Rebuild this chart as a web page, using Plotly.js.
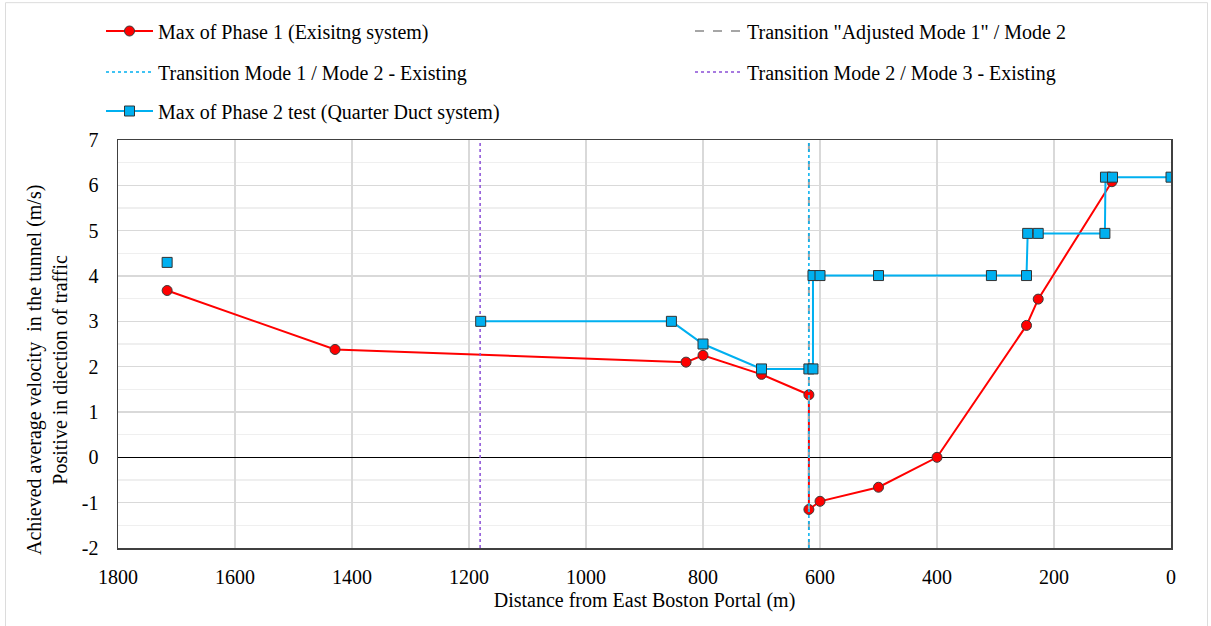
<!DOCTYPE html>
<html>
<head>
<meta charset="utf-8">
<script src="https://cdn.plot.ly/plotly-3.0.1.min.js"></script>
<style>
  html, body { margin: 0; padding: 0; background: #ffffff; }
  #chart { position: absolute; left: 0; top: 0; width: 1211px; height: 626px; }
</style>
</head>
<body>
<div id="chart"></div>
<script>
// Max of Phase 1 (existing system)
const phase1X = [1716, 1429, 829, 800, 700, 619, 619, 600, 500, 400, 247, 227, 101];
const phase1Y = [3.68, 2.38, 2.10, 2.25, 1.83, 1.38, -1.15, -0.97, -0.66, 0.00, 2.91, 3.49, 6.08];

// Max of Phase 2 test (Quarter Duct system) - null separates the isolated first point
const phase2X = [1716, null, 1180, 854, 800, 700, 619, 612, 612, 600, 500, 307, 247, 245, 227, 113, 112, 100, 0];
const phase2Y = [4.30, null, 3.00, 3.00, 2.50, 1.95, 1.95, 1.95, 4.01, 4.01, 4.01, 4.01, 4.01, 4.94, 4.94, 4.94, 6.18, 6.18, 6.18];

// Transition positions (m)
const adjustedMode1Mode2X = 619;
const mode1Mode2ExistingX = 619;
const mode2Mode3ExistingX = 1181;
const yRange = [-2, 7];

const xTicks = [1800, 1600, 1400, 1200, 1000, 800, 600, 400, 200, 0];
const yTicks = [-2, -1, 0, 1, 2, 3, 4, 5, 6, 7];
const yTickText = ['-2', '-1', '0', '1', '2', '3', '4', '5', '6', '7'];

const fontFam = 'Times New Roman';

const traces = [
  {
    name: 'Max of Phase 1 (Exisitng system)',
    x: phase1X, y: phase1Y, mode: 'lines+markers', type: 'scatter',
    line: {color: '#ff0000', width: 2},
    marker: {symbol: 'circle', size: 10, color: '#ff0000', line: {color: '#3a3a3a', width: 1}},
    legend: 'legend'
  },
  {
    name: 'Transition "Adjusted Mode 1" / Mode 2',
    x: [adjustedMode1Mode2X, adjustedMode1Mode2X], y: yRange, mode: 'lines', type: 'scatter',
    line: {color: '#a6a6a6', width: 2, dash: 'dash'},
    legend: 'legend2'
  },
  {
    name: 'Transition Mode 1 / Mode 2 - Existing',
    x: [mode1Mode2ExistingX, mode1Mode2ExistingX], y: yRange, mode: 'lines', type: 'scatter',
    line: {color: '#00b0f0', width: 1.5, dash: 'dot'},
    legend: 'legend3'
  },
  {
    name: 'Transition Mode 2 / Mode 3 - Existing',
    x: [mode2Mode3ExistingX, mode2Mode3ExistingX], y: yRange, mode: 'lines', type: 'scatter',
    line: {color: '#8a4fd6', width: 1.5, dash: 'dot'},
    legend: 'legend4'
  },
  {
    name: 'Max of Phase 2 test (Quarter Duct system)',
    x: phase2X, y: phase2Y, mode: 'lines+markers', type: 'scatter',
    connectgaps: false,
    line: {color: '#00b0f0', width: 2},
    marker: {symbol: 'square', size: 10, color: '#00b0f0', line: {color: '#333333', width: 1}},
    legend: 'legend5'
  }
];

function leg(xpx, ypx) {
  return {
    xref: 'container', yref: 'container',
    x: xpx / 1211, y: 1 - ypx / 626,
    xanchor: 'left', yanchor: 'middle',
    orientation: 'v',
    bgcolor: 'rgba(0,0,0,0)',
    borderwidth: 0,
    itemwidth: 47,
    font: {family: fontFam, size: 20, color: '#000000'}
  };
}

const layout = {
  width: 1211, height: 626,
  paper_bgcolor: '#ffffff',
  plot_bgcolor: '#ffffff',
  margin: {l: 118, r: 40, t: 140, b: 78, autoexpand: false},
  font: {family: fontFam, size: 20, color: '#000000'},
  showlegend: true,
  legend: leg(101, 31),
  legend2: leg(690, 31),
  legend3: leg(101, 72),
  legend4: leg(690, 72),
  legend5: leg(101, 111),
  xaxis: {
    range: [1800, 0],
    tickvals: xTicks,
    ticktext: xTicks.map(String),
    showgrid: true, gridcolor: '#d9d9d9', gridwidth: 1.5,
    zeroline: false,
    showline: true, linecolor: '#404040', linewidth: 1.5, mirror: true,
    ticklabelstandoff: 10,
    tickfont: {family: fontFam, size: 20, color: '#000000'},
    title: {text: 'Distance from East Boston Portal (m)', font: {family: fontFam, size: 20, color: '#000000'}, standoff: 6}
  },
  yaxis: {
    range: yRange,
    tickvals: yTicks,
    ticktext: yTickText,
    showgrid: true, gridcolor: '#d9d9d9', gridwidth: 1.5,
    minor: {dtick: 0.5, showgrid: true, gridcolor: '#efefef', gridwidth: 1.2},
    zeroline: true, zerolinecolor: '#000000', zerolinewidth: 1.5,
    showline: true, linecolor: '#404040', linewidth: 1.5, mirror: true,
    ticklabelstandoff: 14,
    tickfont: {family: fontFam, size: 20, color: '#000000'}
  },
  shapes: [{
    type: 'rect', xref: 'paper', yref: 'paper', layer: 'below',
    x0: (5.5 - 118) / 1053, x1: (1207.5 - 118) / 1053,
    y0: (547.5 - 640) / 407, y1: (547.5 - 3.5) / 407,
    line: {color: '#dcdcdc', width: 1}, fillcolor: 'rgba(0,0,0,0)'
  }],
  annotations: [{
    text: 'Achieved average velocity  in the tunnel (m/s)<br>Positive in diection of traffic',
    xref: 'paper', yref: 'paper',
    x: (47 - 118) / 1053, y: (547.5 - 370) / 407,
    xanchor: 'center', yanchor: 'middle',
    textangle: -90, showarrow: false,
    font: {family: fontFam, size: 20, color: '#000000'}
  }]
};

Plotly.newPlot('chart', traces, layout, {displayModeBar: false, staticPlot: true});
</script>
</body>
</html>
